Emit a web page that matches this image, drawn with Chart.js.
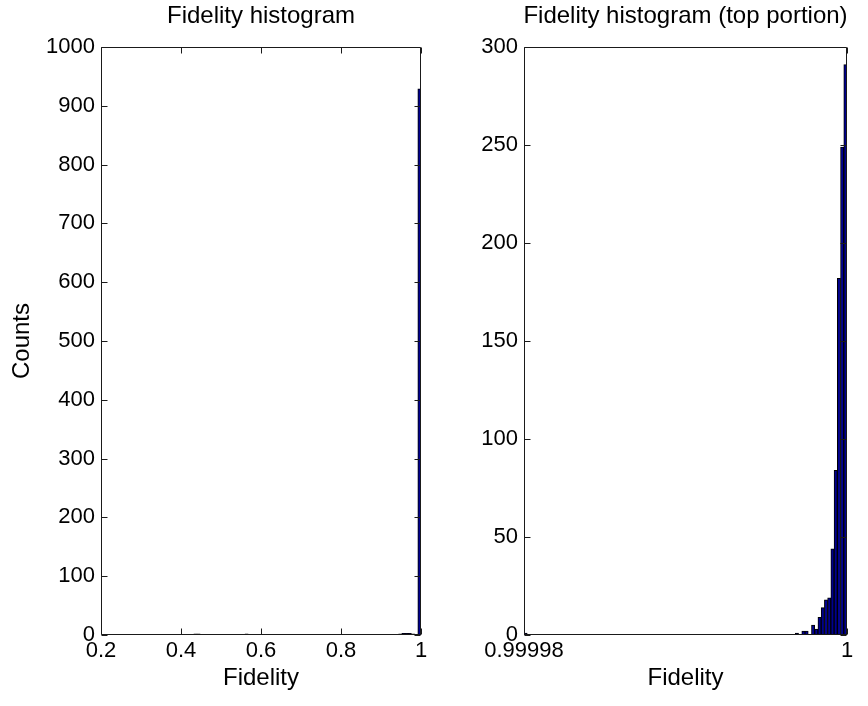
<!DOCTYPE html>
<html><head><meta charset="utf-8">
<script src="https://cdn.jsdelivr.net/npm/chart.js@4/dist/chart.umd.min.js"></script>
<style>
html,body{margin:0;padding:0;background:#fff;overflow:hidden;}
#wrap{position:relative;width:868px;height:706px;overflow:hidden;}
.c{position:absolute;top:0;height:706px;}
</style></head><body>
<div id="wrap">
<div class="c" style="left:0;width:522px"><canvas id="left" width="522" height="706"></canvas></div>
<div class="c" style="left:476px;width:419px"><canvas id="right" width="419" height="706"></canvas></div>
</div>
<script>
// ---- data ----
const leftTitle = 'Fidelity histogram';
const rightTitle = 'Fidelity histogram (top portion)';
const xAxisLabel = 'Fidelity';
const yAxisLabel = 'Counts';
const leftRange = [0.2, 1];
const rightRange = [0.99998, 1];
const leftXTicks = [0.2, 0.4, 0.6, 0.8, 1];
const leftXTickLabels = ['0.2', '0.4', '0.6', '0.8', '1'];
const rightXTicks = [0.99998, 1];
const rightXTickLabels = ['0.99998', '1'];
const leftYTicks = [0, 100, 200, 300, 400, 500, 600, 700, 800, 900, 1000];
const rightYTicks = [0, 50, 100, 150, 200, 250, 300];
// 100 bins each
const leftCounts = [
  0,1,0,0,0,0,0,0,0,0,
  0,0,1,0,0,0,0,1,0,0,
  1,0,0,1,0,0,0,1,1,2,
  2,0,0,1,1,0,0,0,0,0,
  1,1,0,0,1,2,0,0,0,0,
  0,1,1,0,0,0,1,0,1,1,
  1,0,1,0,1,1,1,1,1,0,
  1,0,0,0,0,0,0,1,1,0,
  1,1,1,1,1,1,0,1,1,1,
  0,1,1,2,3,3,3,2,1,929
];
const rightCounts = [
  1,0,0,0,0,0,0,0,0,0,
  0,0,0,0,0,0,0,0,0,0,
  0,0,0,0,0,0,0,0,0,0,
  0,0,0,0,0,0,0,0,0,0,
  0,0,0,0,0,0,0,0,0,0,
  0,0,0,0,0,0,0,0,0,0,
  0,0,0,0,0,0,0,0,0,0,
  0,0,0,0,0,0,0,0,0,0,
  0,0,0,0,1,0,2,2,0,5,
  3,9,14,18,19,44,84,182,249,291
];

// ---- styling ----
const FONT = '"Liberation Sans", Arial, Helvetica, sans-serif';
const labelFont = {family: FONT, size: 24, weight: 'normal', lineHeight: 1.2};
const tickFont = {family: FONT, size: 22, weight: 'normal', lineHeight: 1.2};
const BAR = '#00008f';

const framePlugin = {
  id: 'frame',
  afterDraw(chart) {
    const {ctx, chartArea: a, scales: {x, y}} = chart;
    const L = Math.round(a.left) + 0.5, R = Math.round(a.right) - 0.5;
    const T = Math.round(a.top) + 0.5, B = Math.round(a.bottom) - 0.5;
    const tl = 6;
    ctx.save();
    ctx.strokeStyle = '#1a1a1a';
    ctx.lineWidth = 1;
    ctx.beginPath();
    ctx.rect(L, T, R - L, B - T);
    x.ticks.forEach(t => {
      const p = Math.round(x.getPixelForValue(t.value)) + 0.5;
      ctx.moveTo(p, B); ctx.lineTo(p, B - tl);
      ctx.moveTo(p, T); ctx.lineTo(p, T + tl);
    });
    y.ticks.forEach(t => {
      const p = Math.round(y.getPixelForValue(t.value)) + 0.5;
      ctx.moveTo(L, p); ctx.lineTo(L + tl, p);
      ctx.moveTo(R, p); ctx.lineTo(R - tl, p);
    });
    ctx.stroke();
    ctx.restore();
  }
};

function makeChart(id, cfg) {
  const [lo, hi] = cfg.range;
  const w = (hi - lo) / cfg.counts.length;
  const data = cfg.counts.map((c, i) => ({x: lo + (i + 0.5) * w, y: c}));
  return new Chart(document.getElementById(id), {
    type: 'bar',
    data: {datasets: [{
      data,
      backgroundColor: BAR,
      borderColor: '#000',
      borderWidth: 1,
      borderSkipped: 'start',
      barPercentage: 1,
      categoryPercentage: 1
    }]},
    options: {
      responsive: false,
      animation: false,
      devicePixelRatio: 1,
      layout: {padding: 0},
      plugins: {
        legend: {display: false},
        tooltip: {enabled: false},
        title: {
          display: true, text: cfg.title, font: labelFont, color: '#000',
          fullSize: true, padding: {top: 2, bottom: 16.2}
        }
      },
      scales: {
        x: {
          type: 'linear', min: lo, max: hi, offset: false,
          grid: {display: false, drawTicks: false},
          border: {display: false},
          afterBuildTicks: s => { s.ticks = cfg.xTicks.map(v => ({value: v})); },
          ticks: {
            callback: (v, i) => cfg.xTickLabels[i],
            font: tickFont, color: '#000', padding: 3, maxRotation: 0, autoSkip: false
          },
          title: {display: true, text: xAxisLabel, font: labelFont, color: '#000', padding: {top: 0, bottom: 13}},
          afterFit: s => { s.height = 71; }
        },
        y: {
          min: 0, max: cfg.yTicks[cfg.yTicks.length - 1],
          grid: {display: false, drawTicks: false},
          border: {display: false},
          afterBuildTicks: s => { s.ticks = cfg.yTicks.map(v => ({value: v})); },
          ticks: {callback: v => String(v), font: tickFont, color: '#000', padding: 6, autoSkip: false},
          title: {display: cfg.yTitle, text: yAxisLabel, font: labelFont, color: '#000', padding: {top: 8, bottom: 0}},
          afterFit: s => { s.width = cfg.side; }
        },
        ySpacer: {
          position: 'right', display: true,
          grid: {display: false, drawTicks: false},
          border: {display: false},
          ticks: {display: false},
          afterFit: s => { s.width = cfg.side; }
        }
      }
    },
    plugins: [framePlugin]
  });
}

makeChart('left', {
  range: leftRange, counts: leftCounts, title: leftTitle,
  xTicks: leftXTicks, xTickLabels: leftXTickLabels, yTicks: leftYTicks,
  yTitle: true, side: 101
});
makeChart('right', {
  range: rightRange, counts: rightCounts, title: rightTitle,
  xTicks: rightXTicks, xTickLabels: rightXTickLabels, yTicks: rightYTicks,
  yTitle: false, side: 48
});
</script>
</body></html>
